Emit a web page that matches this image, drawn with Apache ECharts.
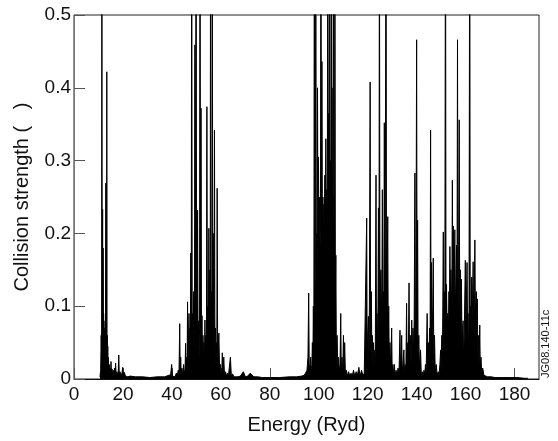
<!DOCTYPE html>
<html>
<head>
<meta charset="utf-8">
<script src="https://cdn.jsdelivr.net/npm/echarts@6/dist/echarts.min.js"></script>
<style>
  html, body { margin: 0; padding: 0; background: #fff; }
  #chart { width: 558px; height: 441px; }
</style>
</head>
<body>
<div id="chart"></div>
<script>
// [energy (Ryd), collision strength], band by band
const band1 = [
  [10.6,0.003],[10.9,0.012],[11.1,0.06],[11.3,0.03],[11.4,0.7],[11.5,0.05],[11.6,0.12],[11.7,0.233],[11.8,0.04],
  [11.9,0.18],[12.0,0.06],[12.1,0.09],[12.2,0.03],[12.3,0.07],[12.4,0.02],[12.5,0.065],[12.6,0.03],[12.7,0.08],
  [12.8,0.04],[12.9,0.1],[13.0,0.269],[13.1,0.05],[13.2,0.07],[13.3,0.03],[13.4,0.422],[13.5,0.04],[13.6,0.06],
  [13.7,0.02],[13.8,0.045],[13.9,0.015],[14.0,0.03],[14.2,0.01],[14.4,0.02],[14.6,0.008],[14.8,0.015],[15.0,0.006],
  [15.1,0.024],[15.3,0.008],[15.5,0.014],[15.8,0.006],[16.0,0.012],[16.3,0.005],[16.6,0.015],[16.8,0.006],
  [17.0,0.022],[17.2,0.007],[17.5,0.01],[17.8,0.005],[18.1,0.012],[18.3,0.033],[18.5,0.006],[18.8,0.01],
  [19.2,0.005],[19.6,0.008],[19.9,0.016],[20.2,0.006],[20.6,0.009],[21.0,0.004],[21.5,0.006],[22.0,0.003],
  [23.0,0.004],[25.0,0.003],[28.0,0.003],[31.0,0.002],[34.0,0.003],[37.0,0.003]
];

const band2 = [
  [39.5,0.006],[39.9,0.02],[40.2,0.004],[40.8,0.006],[41.3,0.003],[41.8,0.008],[42.2,0.005],[42.6,0.012],
  [42.9,0.006],[43.2,0.076],[43.4,0.01],[43.6,0.03],[43.8,0.006],[44.1,0.015],[44.4,0.005],[44.8,0.02],
  [45.1,0.006],[45.4,0.015],[45.6,0.049],[45.8,0.008],[46.0,0.03],[46.2,0.012],[46.4,0.106],[46.6,0.02],
  [46.8,0.06],[47.0,0.09],[47.2,0.03],[47.4,0.07],[47.55,0.025],[47.7,0.173],[47.9,0.05],[48.1,0.7],
  [48.3,0.06],[48.5,0.09],[48.7,0.035],[48.9,0.12],[49.1,0.04],[49.25,0.085],[49.4,0.459],[49.55,0.05],
  [49.7,0.315],[49.9,0.7],[50.1,0.06],[50.3,0.1],[50.5,0.232],[50.7,0.045],[50.9,0.08],[51.1,0.03],
  [51.3,0.07],[51.5,0.7],[51.7,0.05],[51.9,0.372],[52.1,0.04],[52.3,0.087],[52.5,0.02],[52.7,0.06],
  [52.9,0.025],[53.1,0.05],[53.3,0.02],[53.5,0.081],[53.7,0.03],[53.9,0.06],[54.1,0.025],[54.3,0.374],
  [54.5,0.04],[54.7,0.1],[54.9,0.035],[55.1,0.207],[55.3,0.05],[55.5,0.15],[55.65,0.06],[55.8,0.7],
  [56.0,0.06],[56.2,0.12],[56.35,0.05],[56.5,0.7],[56.7,0.07],[56.9,0.2],[57.1,0.04],[57.25,0.09],
  [57.4,0.342],[57.6,0.03],[57.8,0.07],[58.0,0.02],[58.2,0.05],[58.35,0.015],[58.5,0.262],[58.7,0.02],
  [58.9,0.04],[59.2,0.063],[59.5,0.01],[59.8,0.02],[60.1,0.006],[60.4,0.012],[60.6,0.036],[60.9,0.006],
  [61.2,0.03],[61.5,0.005],[61.9,0.01],[62.3,0.004],[62.7,0.008],[63.1,0.004],[63.5,0.006],[63.9,0.03],
  [64.3,0.004],[64.8,0.007],[65.3,0.003],[66.0,0.005],[67.0,0.003],[68.0,0.004],[69.2,0.01],[70.0,0.003],
  [71.0,0.004],[72.0,0.008],[73.5,0.003],[75,0.003],[77,0.002],[80,0.002],[84,0.002],[88,0.003],
  [91,0.003],[93,0.004]
];

const band3 = [
  [94.0,0.005],[94.6,0.008],[95.2,0.012],[95.6,0.03],[95.9,0.118],[96.1,0.02],[96.4,0.015],[96.7,0.03],
  [96.9,0.008],[97.2,0.02],[97.4,0.05],[97.6,0.02],[97.8,0.1],[98.0,0.04],[98.2,0.7],[98.4,0.1],
  [98.6,0.15],[98.8,0.7],[99.0,0.15],[99.2,0.2],[99.35,0.15],[99.5,0.4],[99.7,0.18],[99.9,0.305],
  [100.1,0.17],[100.3,0.25],[100.5,0.18],[100.7,0.2],[100.9,0.7],[101.1,0.2],[101.3,0.436],[101.5,0.2],
  [101.7,0.25],[101.9,0.2],[102.1,0.24],[102.3,0.22],[102.5,0.28],[102.7,0.22],[102.9,0.33],[103.1,0.22],
  [103.3,0.26],[103.5,0.22],[103.7,0.7],[103.9,0.22],[104.1,0.365],[104.25,0.22],[104.4,0.7],[104.6,0.22],
  [104.8,0.3],[104.95,0.22],[105.1,0.7],[105.3,0.22],[105.45,0.4],[105.6,0.22],[105.8,0.28],[106.0,0.7],
  [106.15,0.2],[106.3,0.25],[106.45,0.18],[106.6,0.7],[106.8,0.1],[107.0,0.17],[107.2,0.03],[107.5,0.06],
  [107.8,0.015],[108.1,0.03],[108.4,0.01],[108.7,0.02],[109.0,0.09],[109.2,0.01],[109.5,0.03],[109.8,0.006],
  [110.1,0.06],[110.3,0.01],[110.6,0.05],[110.9,0.006],[111.3,0.012],[111.7,0.004],[112.2,0.01],[112.7,0.004],
  [113.2,0.008],[113.7,0.004],[114.2,0.012],[114.7,0.004],[115.3,0.01],[115.8,0.005],[116.4,0.016],
  [116.9,0.004],[117.5,0.012],[118.0,0.005],[118.6,0.008]
];

const band4 = [
  [119.2,0.01],[119.6,0.221],[119.8,0.02],[120.0,0.06],[120.3,0.086],[120.5,0.03],[120.7,0.1],[121.0,0.408],
  [121.2,0.04],[121.5,0.12],[121.7,0.03],[121.9,0.06],[122.1,0.02],[122.4,0.05],[122.6,0.015],[122.9,0.04],
  [123.1,0.02],[123.4,0.28],[123.6,0.04],[123.8,0.09],[124.0,0.03],[124.2,0.1],[124.4,0.235],[124.6,0.05],
  [124.8,0.7],[125.0,0.1],[125.2,0.12],[125.4,0.15],[125.6,0.1],[125.8,0.12],[126.0,0.26],[126.2,0.1],
  [126.4,0.12],[126.6,0.1],[126.8,0.352],[127.0,0.12],[127.2,0.2],[127.5,0.7],[127.7,0.1],[128.0,0.15],
  [128.2,0.223],[128.4,0.05],[128.6,0.1],[128.8,0.03],[129.1,0.05],[129.4,0.015],[129.8,0.07],[130.0,0.01],
  [130.3,0.02],[130.6,0.006],[130.9,0.02],[131.2,0.005],[131.6,0.012],[132.0,0.005],[132.4,0.015],[132.8,0.008],
  [133.2,0.067],[133.4,0.01],[133.6,0.03],[133.9,0.06],[134.1,0.01],[134.4,0.02],[134.8,0.04],[135.0,0.006],
  [135.3,0.02],[135.6,0.01],[135.9,0.104],[136.1,0.02],[136.4,0.05],[136.6,0.02],[136.9,0.132],[137.1,0.02],
  [137.4,0.06],[137.7,0.02],[138.0,0.081],[138.2,0.03],[138.5,0.07],[138.8,0.04],[139.0,0.08],[139.3,0.283],
  [139.5,0.05],[139.7,0.1],[140.0,0.466],[140.2,0.06],[140.4,0.218],[140.6,0.03],[140.9,0.06],[141.2,0.01],
  [141.6,0.04],[141.9,0.006],[142.3,0.01],[142.7,0.004],[143.0,0.012],[143.3,0.005],[143.6,0.02],[143.9,0.01],
  [144.3,0.09],[144.5,0.02],[144.8,0.05],[145.0,0.02],[145.3,0.07],[145.5,0.03],[145.7,0.342],[145.9,0.05],
  [146.1,0.16],[146.3,0.05],[146.6,0.1],[146.8,0.166],[147.0,0.03],[147.3,0.06],[147.6,0.01],[148.0,0.02],
  [148.4,0.005],[148.8,0.01],[149.2,0.006],[149.5,0.02],[149.8,0.04],[150.0,0.01],[150.3,0.06],[150.5,0.02],
  [150.7,0.1],[150.9,0.202],[151.1,0.03],[151.3,0.12],[151.5,0.05],[151.8,0.7],[152.0,0.09],[152.2,0.13],
  [152.4,0.08],[152.6,0.09],[152.8,0.08],[153.0,0.07],[153.2,0.12],[153.4,0.09],[153.6,0.182],[153.8,0.1],
  [154.0,0.15],[154.2,0.11],[154.4,0.12],[154.6,0.273],[154.8,0.12],[155.0,0.21],[155.2,0.12],[155.4,0.13],
  [155.6,0.205],[155.8,0.11],[156.0,0.12],[156.3,0.184],[156.5,0.12],[156.7,0.466],[156.9,0.1],[157.1,0.12],
  [157.4,0.356],[157.6,0.09],[157.9,0.15],[158.1,0.08],[158.3,0.137],[158.5,0.06],[158.8,0.06],[159.0,0.08],
  [159.2,0.02],[159.5,0.07],[159.9,0.163],[160.1,0.07],[160.3,0.1],[160.6,0.16],[160.8,0.07],[161.0,0.09],
  [161.2,0.03],[161.4,0.095],[161.7,0.7],[161.9,0.07],[162.1,0.1],[162.3,0.06],[162.5,0.14],[162.7,0.08],
  [162.9,0.12],[163.1,0.161],[163.3,0.08],[163.5,0.1],[163.8,0.191],[164.0,0.09],[164.2,0.09],[164.4,0.12],
  [164.6,0.07],[164.8,0.11],[165.0,0.03],[165.2,0.06],[165.5,0.02],[165.8,0.074],[166.0,0.015],[166.3,0.03],
  [166.6,0.008],[167.0,0.015],[167.5,0.005],[168.0,0.006],[169.0,0.003],[170.5,0.003],[172,0.002],[175,0.002],
  [178,0.002],[181,0.002],[184,0.001],[185.5,0.001]
];

const xTicks = [0, 20, 40, 60, 80, 100, 120, 140, 160, 180];
const yTicks = [0, 0.1, 0.2, 0.3, 0.4, 0.5];

const spectrum = band1.concat(band2, band3, band4);
const FONT = "'Liberation Sans', Arial, sans-serif";

const chart = echarts.init(document.getElementById('chart'));
chart.setOption({
  animation: false,
  backgroundColor: '#fff',
  grid: {
    left: 74, right: 19, top: 15, bottom: 62,
    show: true, borderColor: '#222', borderWidth: 1
  },
  xAxis: {
    type: 'value',
    min: 0, max: 190, interval: 20,
    name: 'Energy (Ryd)',
    nameLocation: 'middle',
    nameGap: 36,
    nameTextStyle: { fontFamily: FONT, fontSize: 20, color: '#111' },
    axisLine: { lineStyle: { color: '#111' } },
    axisTick: { inside: true, length: 11, lineStyle: { color: '#555' } },
    axisLabel: {
      fontFamily: FONT, fontSize: 19, color: '#111', margin: 6,
      showMaxLabel: false,
      formatter: v => xTicks.includes(v) ? String(v) : ''
    },
    splitLine: { show: false }
  },
  yAxis: {
    type: 'value',
    min: 0, max: 0.5, interval: 0.1,
    name: 'Collision strength (   )',
    nameLocation: 'middle',
    nameGap: 42,
    nameTextStyle: { fontFamily: FONT, fontSize: 20, color: '#111' },
    axisLine: { lineStyle: { color: '#777' } },
    axisTick: { inside: true, length: 11, lineStyle: { color: '#555' } },
    axisLabel: {
      fontFamily: FONT, fontSize: 19, color: '#111', margin: 3,
      formatter: v => {
        const t = yTicks.find(k => Math.abs(k - v) < 1e-9);
        return t === undefined ? '' : String(t);
      }
    },
    splitLine: { show: false }
  },
  graphic: [{
    type: 'text',
    x: 546, y: 378,
    rotation: Math.PI / 2,
    style: {
      text: 'JG08.140-11c',
      fontFamily: FONT, fontSize: 11, fill: '#111',
      align: 'left', verticalAlign: 'middle'
    }
  }],
  series: [{
    type: 'line',
    data: spectrum,
    showSymbol: false,
    symbol: 'none',
    sampling: null,
    clip: true,
    lineStyle: { color: '#000', width: 1 },
    areaStyle: { color: '#000', opacity: 1 }
  }]
});
</script>
</body>
</html>
